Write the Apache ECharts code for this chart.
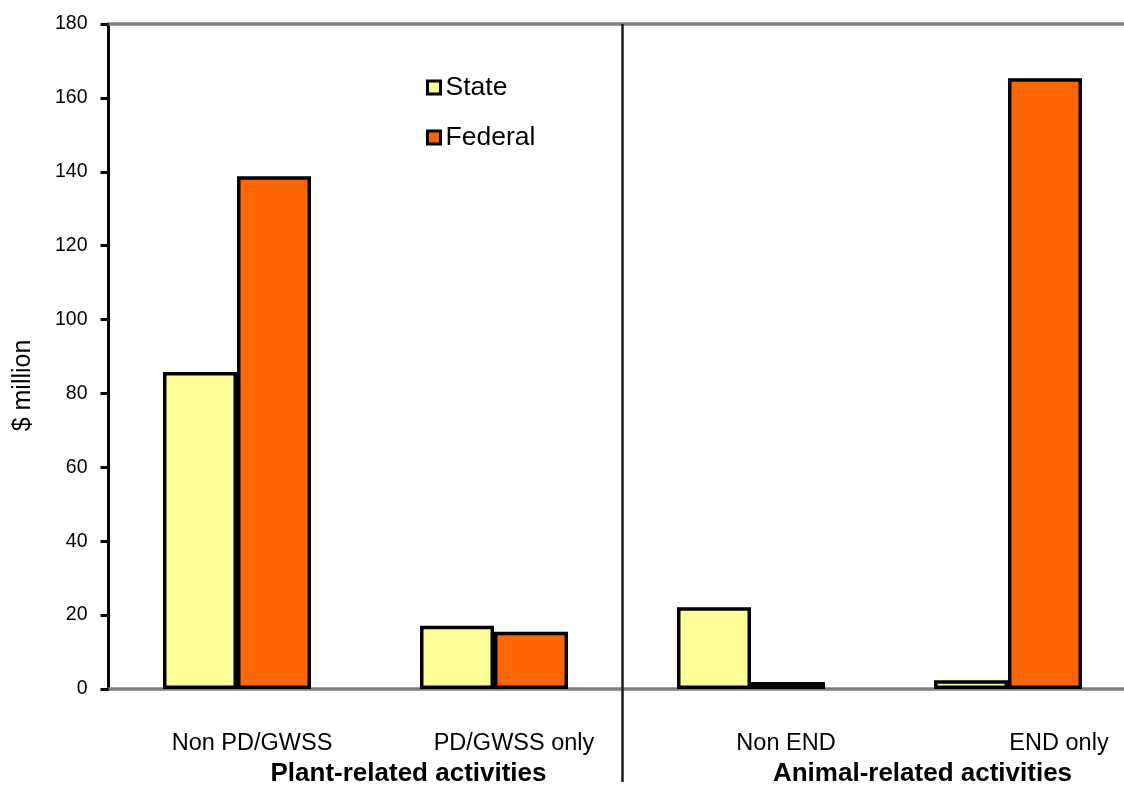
<!DOCTYPE html>
<html>
<head>
<meta charset="utf-8">
<script src="https://cdn.jsdelivr.net/npm/echarts@6/dist/echarts.min.js"></script>
<style>
  html, body { margin: 0; padding: 0; background: #ffffff; overflow: hidden; }
  #wrap { width: 1124px; height: 787px; overflow: hidden; }
  #chart { width: 1137px; height: 787px; }
</style>
</head>
<body>
<div id="wrap"><div id="chart"></div></div>
<script>
// Program spending by source of funds ($ million)
const categories = ['Non PD/GWSS', 'PD/GWSS only', 'Non END', 'END only'];
const groups = ['Plant-related activities', 'Animal-related activities'];
const stateValues = [85.8, 17.1, 22.1, 2.4];
const federalValues = [138.8, 15.5, 1.9, 165.3];
const yTicks = { min: 0, max: 180, interval: 20 };

// horizontal nudges for the category labels (rich-text left padding)
const labelPad = [30, 40, 70, 102];

const FONT = '"Liberation Sans", Arial, sans-serif';
const chart = echarts.init(document.getElementById('chart'), null, { renderer: 'canvas' });

const rich = {};
categories.forEach((c, i) => {
  rich['c' + i] = { fontFamily: FONT, fontSize: 23.5, color: '#000', padding: [0, 0, 0, labelPad[i]] };
});

const option = {
  animation: false,
  backgroundColor: '#ffffff',
  grid: { left: 108.5, right: 0.5, top: 24, bottom: 95.5, containLabel: false },
  legend: {
    orient: 'vertical',
    left: 421,
    top: 69,
    itemWidth: 13,
    itemHeight: 13,
    itemGap: 23,
    itemTextGap: 7,
    icon: 'rect',
    itemStyle: { borderColor: '#000', borderWidth: 3 },
    textStyle: { fontFamily: FONT, fontSize: 26.5, color: '#000' },
    data: ['State', 'Federal']
  },
  xAxis: [
    {
      type: 'category',
      data: categories,
      position: 'bottom',
      axisLine: { show: true, lineStyle: { color: '#808080', width: 3.5 } },
      axisTick: { show: false },
      axisLabel: {
        margin: 43,
        interval: 0,
        formatter: (v, i) => '{c' + i + '|' + v + '}',
        rich: rich
      },
      splitLine: { show: false }
    },
    {
      type: 'category',
      data: groups,
      position: 'bottom',
      axisLine: { show: false },
      axisTick: { show: false },
      axisLabel: {
        margin: 72,
        interval: 0,
        fontFamily: FONT,
        fontSize: 26,
        fontWeight: 'bold',
        color: '#000',
        padding: [0, 0, 0, 86]
      },
      splitLine: { show: false }
    },
    {
      type: 'category',
      data: categories,
      position: 'top',
      axisLine: { show: true, lineStyle: { color: '#808080', width: 3.5 } },
      axisTick: { show: false },
      axisLabel: { show: false },
      splitLine: { show: false }
    }
  ],
  yAxis: {
    type: 'value',
    min: yTicks.min,
    max: yTicks.max,
    interval: yTicks.interval,
    name: '$ million',
    nameLocation: 'middle',
    nameGap: 73,
    nameTextStyle: { fontFamily: FONT, fontSize: 25, color: '#000', padding: [0, 58, 0, 0] },
    axisLine: { show: true, lineStyle: { color: '#000', width: 3 } },
    axisTick: { show: true, inside: false, length: 8, lineStyle: { color: '#000', width: 3 } },
    axisLabel: { fontFamily: FONT, fontSize: 19.5, color: '#000', margin: 21 },
    splitLine: { show: false }
  },
  series: [
    {
      name: 'State',
      type: 'bar',
      data: stateValues,
      barWidth: 74,
      barGap: '0%',
      itemStyle: { color: '#FFFF99', borderColor: '#000', borderWidth: 3.5 }
    },
    {
      name: 'Federal',
      type: 'bar',
      data: federalValues,
      barWidth: 74,
      barGap: '0%',
      itemStyle: { color: '#FF6600', borderColor: '#000', borderWidth: 3.5 }
    }
  ]
};

chart.setOption(option);

// vertical divider between the plant and animal groups, placed at the band boundary
const xa = chart.convertToPixel({ xAxisIndex: 0 }, categories[1]);
const xb = chart.convertToPixel({ xAxisIndex: 0 }, categories[2]);
const divX = (xa + xb) / 2;
const yTop = chart.convertToPixel({ yAxisIndex: 0 }, yTicks.max);
chart.setOption({
  graphic: [{
    type: 'line',
    z: 10,
    shape: { x1: divX, y1: yTop, x2: divX, y2: 782 },
    style: { stroke: '#1a1a1a', lineWidth: 2.5 }
  }]
});
</script>
</body>
</html>
